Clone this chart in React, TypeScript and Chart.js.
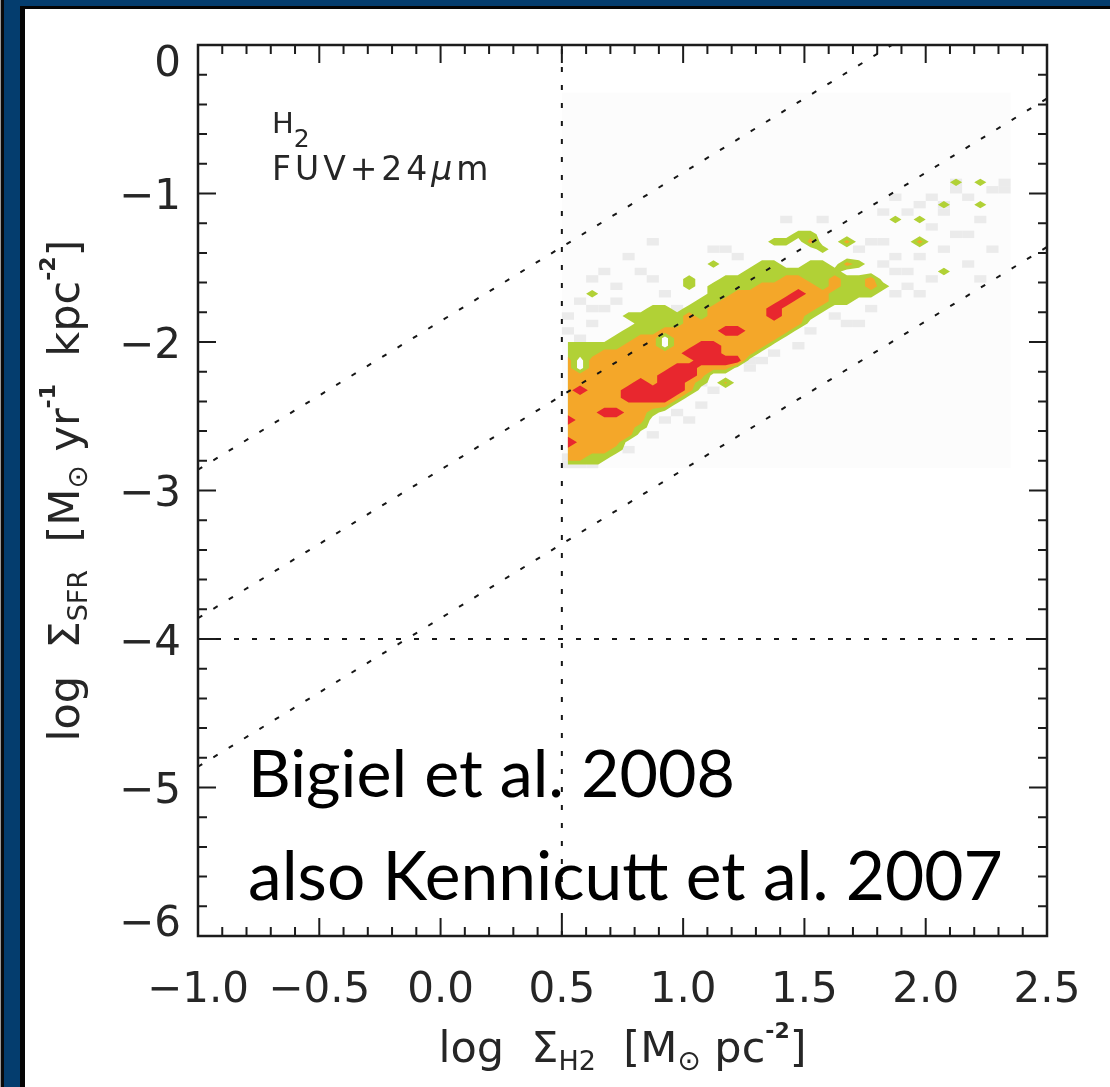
import React, { useEffect, useRef } from "react";
import { Chart, registerables } from "chart.js";

Chart.register(...registerables);

const W = 1110;
const H = 1087;
const AREA = { left: 198, top: 45, right: 1047, bottom: 936 };

// ---- axes ----
const X_RANGE = [-1.0, 2.5];
const Y_RANGE = [-6, 0];
const X_TICKS = [-1.0, -0.5, 0.0, 0.5, 1.0, 1.5, 2.0, 2.5];
const X_TICK_LABELS = ["−1.0", "−0.5", "0.0", "0.5", "1.0", "1.5", "2.0", "2.5"];
const Y_TICKS = [0, -1, -2, -3, -4, -5, -6];
const Y_TICK_LABELS = ["0", "−1", "−2", "−3", "−4", "−5", "−6"];
const X_MINOR_PER_MAJOR = 5;
const Y_MINOR_PER_MAJOR = 5;

// ---- reference lines ----
const DEPLETION_OFFSETS = [-1.86, -2.86, -3.86]; // log SFR = log H2 + offset
const H2_LIMIT = 0.5;
const SFR_LIMIT = -4;

// ---- 2D density grid (0.05 dex bins) ----
const BIN = 0.05;
const GRID_X0 = 0.5; // left edge of column 0
const GRID_Y0 = -0.85; // top edge of row 0
const N_COLS = 37;
const N_ROWS = 40;
const DATA_BOX = { x0: 0.5, x1: 2.35, y0: -2.85, y1: -0.32 };

// per column (from col 0): first/last row of the green (lowest) contour
const GREEN_TOP = [23, 23, 23, 23, 22, 21, 19, 18, 18, 19, 18, 17, 15, 14, 14, 13, 12, 12, 13, 13, 12, 12, 13, 14, 14, 14, 15];
const GREEN_BOTTOM = [39, 39, 39, 38, 37, 35, 34, 32, 31, 30, 29, 28, 26, 26, 25, 24, 23, 22, 21, 20, 19, 18, 17, 17, 16, 16, 15];
// per column: first/last row of the orange (middle) contour
const ORANGE_TOP = [25, 25, 25, 24, 24, 23, 22, 22, 21, 21, 19, 20, 18, 17, 16, 16, 15, 15, 14, 14, 15, 16, 14];
const ORANGE_BOTTOM = [38, 38, 37, 37, 36, 35, 33, 31, 31, 30, 29, 27, 26, 26, 25, 24, 23, 22, 21, 20, 18, 17, 15];
// cells above the red (highest) contour: [col, row]
const RED_LEVEL = 3.4;
const RED_CELLS = [
  [0, 33], [1, 29], [3, 32], [4, 32],
  [5, 29], [5, 30], [6, 28], [6, 29], [6, 30], [7, 29], [7, 30],
  [8, 27], [8, 28], [8, 29], [8, 30], [9, 26], [9, 27], [9, 28], [9, 29], [10, 26], [10, 27],
  [10, 24], [11, 23], [11, 24], [11, 25], [12, 23], [12, 24], [12, 25], [13, 25], [14, 25],
  [13, 21], [14, 21], [17, 18], [17, 19], [18, 17], [19, 16],
];
const PEAK_CELLS = [[0, 36]];
// isolated small islands: [col, row, level]
const ISLAND_CELLS = [
  [2, 16, 1], [5, 19, 1], [10, 14, 1], [10, 15, 1], [12, 12, 1], [13, 28, 1.7],
  [17, 9, 1], [18, 9, 1], [19, 8, 1], [20, 8, 1], [20, 9, 2], [21, 10, 1],
  [23, 9, 2], [23, 12, 2], [24, 12, 1], [25, 14, 2], [25, 15, 2],
  [27, 6, 1], [29, 6, 1], [29, 9, 2], [31, 13, 1], [32, 1, 1], [34, 1, 1], [34, 4, 1], [31, 4, 1],
];
const HOLE_CELLS = [[1, 25], [1, 26], [8, 22], [8, 23]];
// low-count histogram pixels (light grey)
const GRAY_CELLS = [
  [32, 1], [32, 2], [36, 1], [36, 2], [33, 3], [27, 3], [29, 4], [31, 4], [31, 5], [26, 5],
  [21, 6], [34, 6], [18, 6], [30, 7], [32, 8], [25, 9], [26, 9], [7, 9], [24, 10], [31, 10],
  [35, 10], [12, 10], [13, 10], [5, 11], [14, 11], [27, 11], [3, 13], [6, 13], [27, 13], [28, 13],
  [2, 14], [7, 14], [30, 14], [28, 15], [27, 16], [1, 17], [4, 17], [2, 18], [3, 18], [9, 18],
  [25, 18], [2, 20], [23, 20], [24, 20], [0, 21], [10, 21], [20, 21], [15, 25], [16, 25], [15, 26],
  [11, 28], [8, 33], [10, 33], [4, 36], [5, 37], [0, 38], [1, 38], [0, 39], [1, 39], [2, 39],
  [28, 5], [30, 3], [35, 2], [33, 8], [29, 11], [33, 12], [26, 12], [4, 15], [8, 16], [0, 19],
  [1, 22], [19, 23], [17, 24], [12, 29], [9, 32], [7, 35], [11, 31], [22, 19], [29, 16], [34, 14],
];
const CONTOUR_LEVELS = [0.5, 1.5, 2.5];
const CONTOUR_COLORS = ["#b1d136", "#f4a729", "#e8272e"];
const GRAY_COLOR = "#ebebeb";
const BOX_COLOR = "#fcfcfc";

// ---- text ----
const AXIS_FONT = '"DejaVu Sans"';
const TEXT_COLOR = "#262626";
const CITATIONS = ["Bigiel et al. 2008", "also Kennicutt et al. 2007"];

function buildField(): number[][] {
  const f: number[][] = [];
  for (let c = 0; c < N_COLS; c++) f.push(new Array(N_ROWS).fill(0));
  GREEN_TOP.forEach((t, c) => { for (let r = t; r <= GREEN_BOTTOM[c]; r++) f[c][r] = 1; });
  ORANGE_TOP.forEach((t, c) => { for (let r = t; r <= ORANGE_BOTTOM[c]; r++) f[c][r] = 2; });
  RED_CELLS.forEach(([c, r]) => { f[c][r] = RED_LEVEL; });
  PEAK_CELLS.forEach(([c, r]) => { f[c][r] = 4; });
  ISLAND_CELLS.forEach(([c, r, v]) => { f[c][r] = v; });
  HOLE_CELLS.forEach(([c, r]) => { f[c][r] = 0; });
  return f;
}

type Seg = { t: string; size: number; dy?: number; style?: string; weight?: string | number; family?: string };
function segFont(s: Seg) {
  return `${s.style || "normal"} ${s.weight || "normal"} ${s.size}px ${s.family || AXIS_FONT}`;
}
function drawRich(ctx: CanvasRenderingContext2D, segs: Seg[], x0: number, base: number, center: boolean) {
  let total = 0;
  const widths = segs.map((s) => {
    ctx.font = segFont(s);
    const w = ctx.measureText(s.t).width;
    total += w;
    return w;
  });
  let x = center ? x0 - total / 2 : x0;
  segs.forEach((s, i) => {
    ctx.font = segFont(s);
    ctx.fillText(s.t, x, base + (s.dy || 0));
    x += widths[i];
  });
}

const contourPlugin = {
  id: "contours",
  beforeDatasetsDraw(chart: any) {
    const { ctx, chartArea, scales } = chart;
    const xs = scales.x;
    const ys = scales.y;
    ctx.save();
    ctx.beginPath();
    ctx.rect(chartArea.left, chartArea.top, chartArea.right - chartArea.left, chartArea.bottom - chartArea.top);
    ctx.clip();
    // faint histogram box
    ctx.fillStyle = BOX_COLOR;
    {
      const x0 = xs.getPixelForValue(DATA_BOX.x0);
      const x1 = xs.getPixelForValue(DATA_BOX.x1);
      const y0 = ys.getPixelForValue(DATA_BOX.y1);
      const y1 = ys.getPixelForValue(DATA_BOX.y0);
      ctx.fillRect(x0, y0, x1 - x0, y1 - y0);
    }
    // grey histogram pixels
    ctx.fillStyle = GRAY_COLOR;
    GRAY_CELLS.forEach(([c, r]) => {
      const x0 = xs.getPixelForValue(GRID_X0 + BIN * c);
      const x1 = xs.getPixelForValue(GRID_X0 + BIN * (c + 1));
      const y0 = ys.getPixelForValue(GRID_Y0 - BIN * r);
      const y1 = ys.getPixelForValue(GRID_Y0 - BIN * (r + 1));
      ctx.fillRect(x0, y0, x1 - x0, y1 - y0);
    });
    // filled contours by marching squares on cell centres
    const f = buildField();
    const px = (c: number) => xs.getPixelForValue(GRID_X0 + BIN * (c + 0.5));
    const py = (r: number) => ys.getPixelForValue(GRID_Y0 - BIN * (r + 0.5));
    CONTOUR_LEVELS.forEach((t, li) => {
      ctx.fillStyle = CONTOUR_COLORS[li];
      ctx.beginPath();
      for (let c = 0; c < N_COLS - 1; c++) {
        for (let r = 0; r < N_ROWS - 1; r++) {
          const corners = [
            [px(c), py(r), f[c][r]],
            [px(c + 1), py(r), f[c + 1][r]],
            [px(c + 1), py(r + 1), f[c + 1][r + 1]],
            [px(c), py(r + 1), f[c][r + 1]],
          ];
          if (corners.every((k) => k[2] < t)) continue;
          const pts: number[][] = [];
          for (let k = 0; k < 4; k++) {
            const a = corners[k];
            const b = corners[(k + 1) % 4];
            if (a[2] >= t) pts.push([a[0], a[1]]);
            if ((a[2] >= t) !== (b[2] >= t)) {
              const s = (t - a[2]) / (b[2] - a[2]);
              pts.push([a[0] + (b[0] - a[0]) * s, a[1] + (b[1] - a[1]) * s]);
            }
          }
          if (pts.length < 3) continue;
          ctx.moveTo(pts[0][0], pts[0][1]);
          for (let k = 1; k < pts.length; k++) ctx.lineTo(pts[k][0], pts[k][1]);
          ctx.closePath();
        }
      }
      ctx.fill();
    });
    ctx.restore();
  },
};

const framePlugin = {
  id: "frame",
  afterDraw(chart: any) {
    const { ctx, chartArea, scales } = chart;
    const xs = scales.x;
    const ys = scales.y;
    const { left, right, top, bottom } = chartArea;
    ctx.save();
    ctx.strokeStyle = "#1c1c1c";
    ctx.lineWidth = 2.5;
    ctx.strokeRect(left, top, right - left, bottom - top);
    ctx.lineWidth = 2;
    ctx.beginPath();
    const xStep = (X_TICKS[1] - X_TICKS[0]) / X_MINOR_PER_MAJOR;
    const nx = Math.round((X_RANGE[1] - X_RANGE[0]) / xStep);
    for (let k = 0; k <= nx; k++) {
      const p = xs.getPixelForValue(X_RANGE[0] + k * xStep);
      const len = k % X_MINOR_PER_MAJOR === 0 ? 18 : 9;
      ctx.moveTo(p, bottom); ctx.lineTo(p, bottom - len);
      ctx.moveTo(p, top); ctx.lineTo(p, top + len);
    }
    const yStep = (Y_TICKS[0] - Y_TICKS[1]) / Y_MINOR_PER_MAJOR;
    const ny = Math.round((Y_RANGE[1] - Y_RANGE[0]) / yStep);
    for (let k = 0; k <= ny; k++) {
      const p = ys.getPixelForValue(Y_RANGE[0] + k * yStep);
      const len = k % Y_MINOR_PER_MAJOR === 0 ? 18 : 9;
      ctx.moveTo(left, p); ctx.lineTo(left + len, p);
      ctx.moveTo(right, p); ctx.lineTo(right - len, p);
    }
    ctx.stroke();

    ctx.fillStyle = TEXT_COLOR;
    ctx.textBaseline = "alphabetic";
    // x tick labels
    ctx.font = `normal 42px ${AXIS_FONT}`;
    ctx.textAlign = "center";
    X_TICKS.forEach((v, i) => ctx.fillText(X_TICK_LABELS[i], xs.getPixelForValue(v), 1002));
    // y tick labels (kept inside plot height)
    ctx.textAlign = "right";
    const digitH = 31;
    Y_TICKS.forEach((v, i) => {
      let cy = ys.getPixelForValue(v);
      cy = Math.min(Math.max(cy, top + digitH / 2), bottom - digitH / 2);
      ctx.fillText(Y_TICK_LABELS[i], 181, cy + digitH / 2);
    });
    ctx.textAlign = "left";
    // axis titles
    drawRich(ctx, [
      { t: "log  Σ", size: 43 },
      { t: "H2", size: 27, dy: 8 },
      { t: "  [M", size: 43 },
      { t: "⊙", size: 28, dy: 8 },
      { t: " pc", size: 43 },
      { t: "-2", size: 22, dy: -24, weight: "bold" },
      { t: "]", size: 43 },
    ], (left + right) / 2, 1062, true);
    ctx.save();
    ctx.translate(79, (top + bottom) / 2);
    ctx.rotate(-Math.PI / 2);
    drawRich(ctx, [
      { t: "log  Σ", size: 43 },
      { t: "SFR", size: 27, dy: 8 },
      { t: "  [M", size: 43 },
      { t: "⊙", size: 28, dy: 8 },
      { t: " yr", size: 43 },
      { t: "-1", size: 22, dy: -24, weight: "bold" },
      { t: "  kpc", size: 43 },
      { t: "-2", size: 22, dy: -24, weight: "bold" },
      { t: "]", size: 43 },
    ], 0, 0, true);
    ctx.restore();
    // in-plot annotation
    drawRich(ctx, [{ t: "H", size: 29 }, { t: "2", size: 25, dy: 14 }], 272, 133, false);
    (ctx as any).letterSpacing = "4px";
    drawRich(ctx, [
      { t: "FUV+24", size: 33 },
      { t: "μ", size: 33, style: "italic" },
      { t: "m", size: 33 },
    ], 272, 180, false);
    (ctx as any).letterSpacing = "0px";
    // citation text
    ctx.fillStyle = "#000000";
    const fit = (text: string, target: number) => {
      ctx.font = `normal 400 100px Lato`;
      return (100 * target) / ctx.measureText(text).width;
    };
    const s1 = fit(CITATIONS[0], 487);
    ctx.font = `normal 400 ${s1}px Lato`;
    ctx.fillText(CITATIONS[0], 248, 797);
    const s2 = fit(CITATIONS[1], 755);
    ctx.font = `normal 400 ${s2}px Lato`;
    ctx.fillText(CITATIONS[1], 248, 900);
    ctx.restore();
  },
};

const NAVY = "#043d6e";

export default function App() {
  const ref = useRef<HTMLCanvasElement | null>(null);
  useEffect(() => {
    if (!ref.current) return;
    const line = (label: string, pts: { x: number; y: number }[]) => ({
      label,
      data: pts,
      showLine: true,
      borderColor: "#161616",
      borderWidth: 2,
      borderDash: [5, 13],
      pointRadius: 0,
      fill: false,
      tension: 0,
    });
    const chart = new Chart(ref.current, {
      type: "scatter",
      data: {
        datasets: [
          ...DEPLETION_OFFSETS.map((o, i) =>
            line(`constant depletion ${i + 1}`, [
              { x: X_RANGE[0], y: X_RANGE[0] + o },
              { x: X_RANGE[1], y: X_RANGE[1] + o },
            ])
          ),
          line("H2 sensitivity", [{ x: H2_LIMIT, y: Y_RANGE[0] }, { x: H2_LIMIT, y: Y_RANGE[1] }]),
          line("SFR sensitivity", [{ x: X_RANGE[0], y: SFR_LIMIT }, { x: X_RANGE[1], y: SFR_LIMIT }]),
        ],
      },
      options: {
        animation: false,
        responsive: false,
        devicePixelRatio: 1,
        layout: { padding: { left: AREA.left, top: AREA.top, right: W - AREA.right, bottom: H - AREA.bottom } },
        plugins: { legend: { display: false }, tooltip: { enabled: false } },
        scales: {
          x: { type: "linear", display: false, min: X_RANGE[0], max: X_RANGE[1] },
          y: { type: "linear", display: false, min: Y_RANGE[0], max: Y_RANGE[1] },
        },
      },
      plugins: [contourPlugin, framePlugin],
    });
    return () => chart.destroy();
  }, []);
  const bar = (s: React.CSSProperties) => <div style={{ position: "absolute", ...s }} />;
  return (
    <div style={{ position: "fixed", left: 0, top: 0, width: W, height: H, background: "#ffffff", overflow: "hidden" }}>
      <canvas ref={ref} width={W} height={H} style={{ position: "absolute", left: 0, top: 0, width: W, height: H }} />
      {bar({ left: 0, top: 0, width: 1, height: H, background: "#9a9a9a" })}
      {bar({ left: 1, top: 0, width: 3, height: H, background: "#0a0a0a" })}
      {bar({ left: 4, top: 0, width: W - 4, height: 6, background: NAVY })}
      {bar({ left: 4, top: 0, width: 16, height: H, background: NAVY })}
      {bar({ left: 20, top: 6, width: W - 20, height: 3, background: "#050505" })}
      {bar({ left: 20, top: 6, width: 5, height: H - 6, background: "#050505" })}
    </div>
  );
}
